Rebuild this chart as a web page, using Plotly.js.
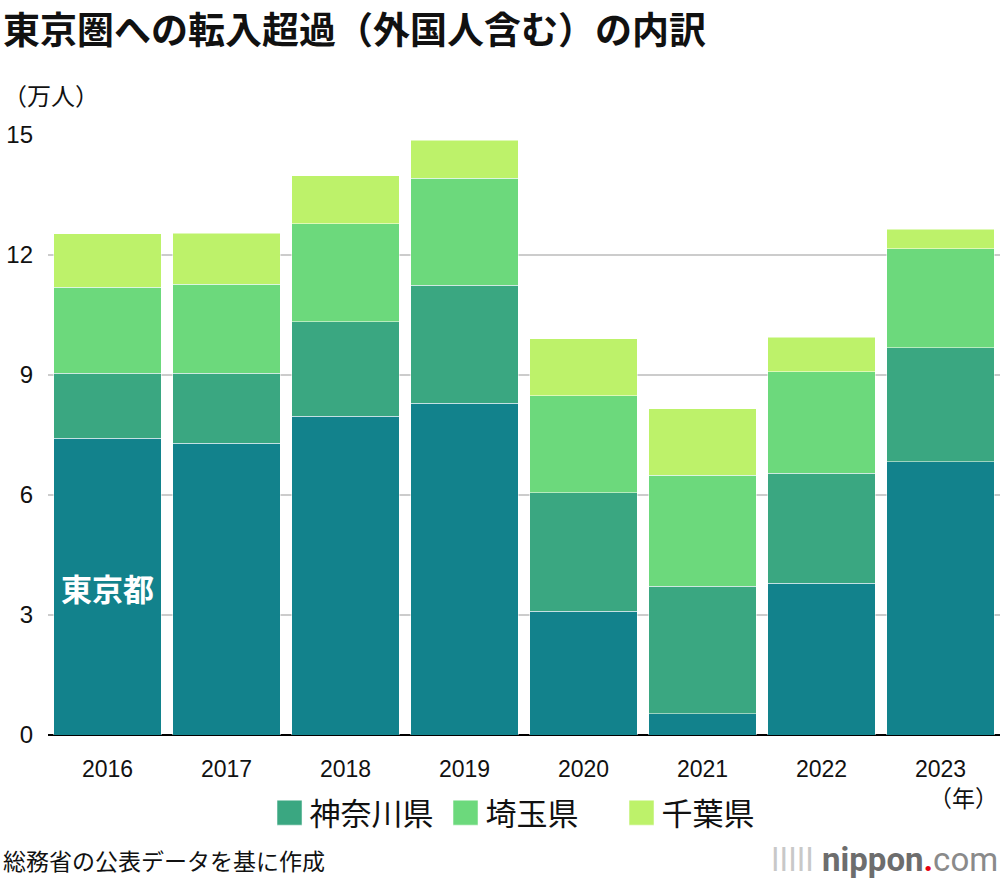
<!DOCTYPE html>
<html>
<head>
<meta charset="utf-8">
<script src="https://cdn.plot.ly/plotly-3.0.1.min.js"></script>
<style>
html,body{margin:0;padding:0;background:#fff;}
#chart{width:1000px;height:880px;}
</style>
</head>
<body>
<div id="chart"></div>
<script>
const years = ['2016','2017','2018','2019','2020','2021','2022','2023'];
const tokyo    = [7.42, 7.30, 7.97, 8.29, 3.10, 0.53, 3.80, 6.83];
const kanagawa = [1.62, 1.75, 2.36, 2.96, 2.96, 3.19, 2.74, 2.85];
const saitama  = [2.16, 2.22, 2.45, 2.67, 2.42, 2.77, 2.54, 2.48];
const chiba    = [1.33, 1.28, 1.20, 0.95, 1.43, 1.67, 0.87, 0.48];
const yTicks = [0, 3, 6, 9, 12, 15];

const colors = {tokyo:'#12828c', kanagawa:'#3aa781', saitama:'#6cd97c', chiba:'#bdf26a'};
const names = {tokyo:'東京都', kanagawa:'神奈川県', saitama:'埼玉県', chiba:'千葉県'};
const series = {tokyo:tokyo, kanagawa:kanagawa, saitama:saitama, chiba:chiba};

const cjk = '"Noto Sans CJK JP", "Noto Sans", sans-serif';
const num = '"Liberation Sans", Arial, "Noto Sans CJK JP", sans-serif';

const traces = ['tokyo','kanagawa','saitama','chiba'].map(function(k){
  return {
    type:'bar', x: years, y: series[k], name: names[k],
    marker:{color: colors[k], line:{color:'rgba(255,255,255,0.5)', width:1}},
    showlegend: k !== 'tokyo'
  };
});

const layout = {
  width:1000, height:880,
  margin:{l:48, r:0, t:135, b:145},
  paper_bgcolor:'#fff', plot_bgcolor:'#fff',
  barmode:'stack', bargap:0.1,
  showlegend:true,
  legend:{orientation:'h', traceorder:'normal', x:0.51, xanchor:'center', y:-0.13, yanchor:'middle',
          font:{family:cjk, size:31, color:'#111'}, itemwidth:30,
          entrywidthmode:'pixels', entrywidth:131},
  xaxis:{type:'category', range:[-0.5, years.length - 0.5],
         tickfont:{family:num, size:23, color:'#111'}, ticks:'',
         showgrid:false, showline:false, ticklabelstandoff:18, fixedrange:true},
  yaxis:{range:[0,15], tickvals:yTicks, ticktext:yTicks.map(String),
         tickfont:{family:num, size:24, color:'#111'},
         showgrid:true, gridcolor:'#cccccc', gridwidth:1.5,
         zeroline:true, zerolinecolor:'#000', zerolinewidth:2.5,
         ticks:'', ticklabelstandoff:14, fixedrange:true},
  annotations:[
    {xref:'paper', yref:'paper', x:-0.0494, y:1.178, xanchor:'left', yanchor:'middle',
     text:'<b>東京圏への転入超過（外国人含む）の内訳</b>', showarrow:false,
     font:{family:cjk, size:37, color:'#111'}},
    {xref:'paper', yref:'paper', x:-0.0494, y:1.067, xanchor:'left', yanchor:'middle',
     text:'（万人）', showarrow:false, font:{family:cjk, size:24, color:'#111'}},
    {xref:'x', yref:'y', x:years.indexOf('2016'), y:3.7, text:'<b>東京都</b>', showarrow:false,
     font:{family:cjk, size:31, color:'#fff'}},
    {xref:'paper', yref:'paper', x:1.0, y:-0.103, xanchor:'right', yanchor:'middle',
     text:'（年）', showarrow:false, font:{family:cjk, size:23, color:'#111'}},
    {xref:'paper', yref:'paper', x:-0.0494, y:-0.208, xanchor:'left', yanchor:'middle',
     text:'総務省の公表データを基に作成', showarrow:false, font:{family:cjk, size:23, color:'#111'}},
    {xref:'paper', yref:'paper', x:1.0, y:-0.208, xanchor:'right', yanchor:'middle',
     text:'<span style="color:#c8c8c8">ǀǀǀǀǀ </span><b>nippon</b><span style="color:#e60012"><b>.</b></span><span style="color:#8a8a8a">com</span>',
     showarrow:false, font:{family:'"Roboto", "Liberation Sans", sans-serif', size:33, color:'#6d6d6d'}}
  ]
};

Plotly.newPlot('chart', traces, layout, {displayModeBar:false, staticPlot:true}).then(function(gd){
  // larger legend swatches, as in the reference
  gd.querySelectorAll('.legend .legendpoints path').forEach(function(p){
    p.setAttribute('d', 'M12.5,12.5H-12.5V-12.5H12.5Z');
  });
});
</script>
</body>
</html>
